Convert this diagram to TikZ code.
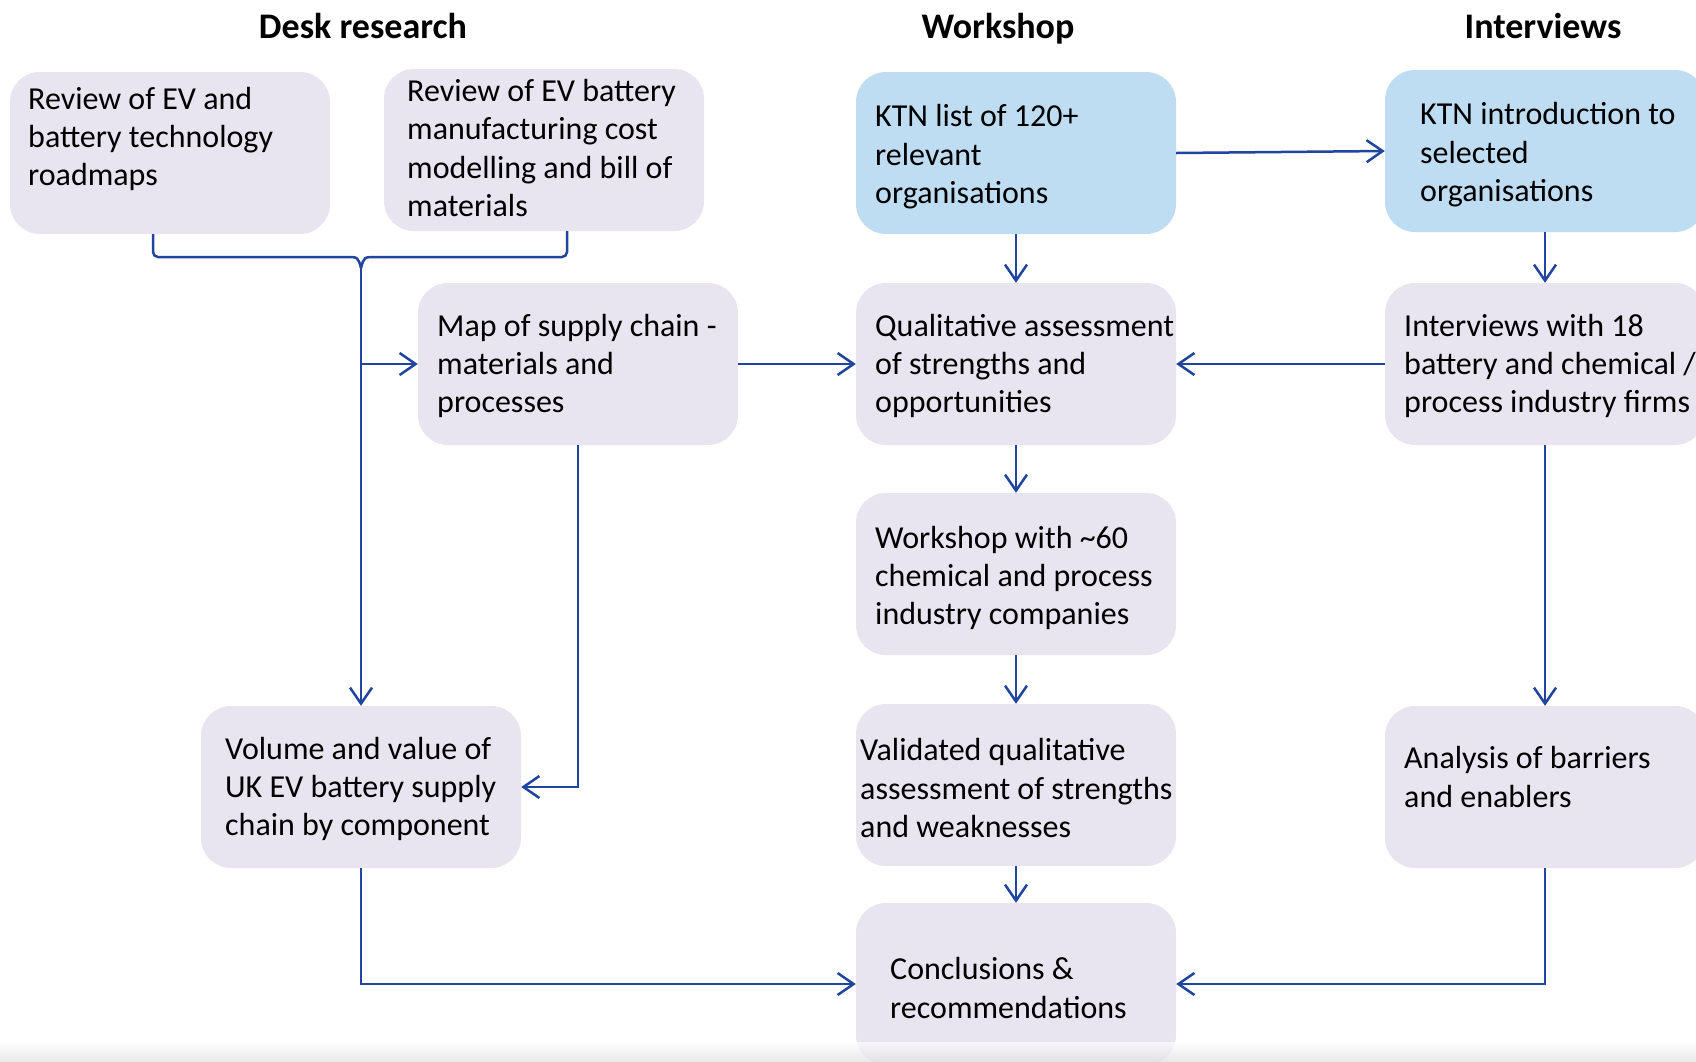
\documentclass[tikz,border=0pt]{standalone}
\usepackage{fontspec}
\setmainfont{Carlito}
\usetikzlibrary{arrows.meta,calc}
\definecolor{boxfill}{HTML}{E8E4F0}
\definecolor{ktnfill}{HTML}{BFDDF2}
\definecolor{flow}{HTML}{1F459E}
\begin{document}
\begin{tikzpicture}[x=1pt,y=-1pt,
  stage/.style={rounded corners=30pt, fill=boxfill, minimum width=320pt, minimum height=162pt, inner sep=0pt},
  ktnbox/.style={stage, fill=ktnfill},
  txt/.style={anchor=west, align=left, inner sep=0pt, font=\fontsize{32}{38.4}\selectfont},
  head/.style={anchor=base, font=\fontsize{36}{40}\selectfont\bfseries, inner sep=0pt},
  wire/.style={draw=flow, line width=2.5pt},
  link/.style={wire, -{Straight Barb[length=16pt,width=22pt,line width=2.5pt]}},
]
\clip (0,0) rectangle (1696,1061);
\fill[white] (0,0) rectangle (1696,1061);

% column headings
\node[head] (hdesk) at (363,38) {Desk research};
\node[head] (hwork) at (998,38) {Workshop};
\node[head] (hintv) at (1543,38) {Interviews};

% boxes
\node[stage]  (r1)    at (170,153) {};
\node[stage]  (r2)    at (544,150) {};
\node[ktnbox] (ktn)   at (1016,153) {};
\node[ktnbox] (intro) at (1545,151) {};
\node[stage]  (map)   at (578,364) {};
\node[stage]  (qual)  at (1016,364) {};
\node[stage]  (intv)  at (1545,364) {};
\node[stage]  (wksp)  at (1016,574) {};
\node[stage]  (vol)   at (361,787) {};
\node[stage]  (valid) at (1016,785) {};
\node[stage]  (anal)  at (1545,787) {};
\node[stage]  (concl) at (1016,984) {};

% box texts
\node[txt] (r1t)    at (28,139)   {Review of EV and\\battery technology\\roadmaps};
\node[txt] (r2t)    at (407,148)  {Review of EV battery\\manufacturing cost\\modelling and bill of\\materials};
\node[txt] (ktnt)   at (875,157)  {KTN list of 120+\\relevant\\organisations};
\node[txt] (introt) at (1420,155) {KTN introduction to\\selected\\organisations};
\node[txt] (mapt)   at (437,366)  {Map of supply chain -\\materials and\\processes};
\node[txt] (qualt)  at (875,366)  {Qualitative assessment\\of strengths and\\opportunities};
\node[txt] (intvt)  at (1404,366) {Interviews with 18\\battery and chemical /\\process industry firms};
\node[txt] (wkspt)  at (875,578)  {Workshop with \textasciitilde60\\chemical and process\\industry companies};
\node[txt] (volt)   at (225,789)  {Volume and value of\\UK EV battery supply\\chain by component};
\node[txt] (validt) at (860,788)  {Validated qualitative\\assessment of strengths\\and weaknesses};
\node[txt] (analt)  at (1404,777) {Analysis of barriers\\and enablers};
\node[txt] (conclt) at (890,988)  {Conclusions \&\\recommendations};

% bracket joining the two desk reviews
\coordinate (bl) at (153,0);
\coordinate (br) at (567,0);
\coordinate (hubL) at (346,257);
\coordinate (hubR) at (376,257);
\coordinate (hub) at (361,268);
\draw[wire, rounded corners=5pt] (r1.south -| bl) |- (hubL);
\draw[wire, rounded corners=5pt] (r2.south -| br) |- (hubR);
\draw[wire] (hubL) .. controls (358,257) .. (hub);
\draw[wire] (hubR) .. controls (364,257) .. (hub);
\draw[link] (hub) -- (vol.north);
\draw[link] (hub |- map.west) -- (map.west);

% flow connectors
\draw[link] (ktn.east) -- (intro.west);
\draw[link] (ktn.south) -- (qual.north);
\draw[link] (intro.south) -- (intv.north);
\draw[link] (map.east) -- (qual.west);
\draw[link] (intv.west) -- (qual.east);
\draw[link] (qual.south) -- (wksp.north);
\draw[link] (wksp.south) -- (valid.north);
\draw[link] (valid.south) -- (concl.north);
\draw[link] (intv.south) -- (anal.north);
\draw[link] (map.south) |- (vol.east);
\draw[link] (vol.south) |- (concl.west);
\draw[link] (anal.south) |- (concl.east);

% faint shadow along the lower edge
\shade[top color=white, bottom color=black!12, opacity=0.7] (0,1042) rectangle (1696,1061);
\end{tikzpicture}
\end{document}
